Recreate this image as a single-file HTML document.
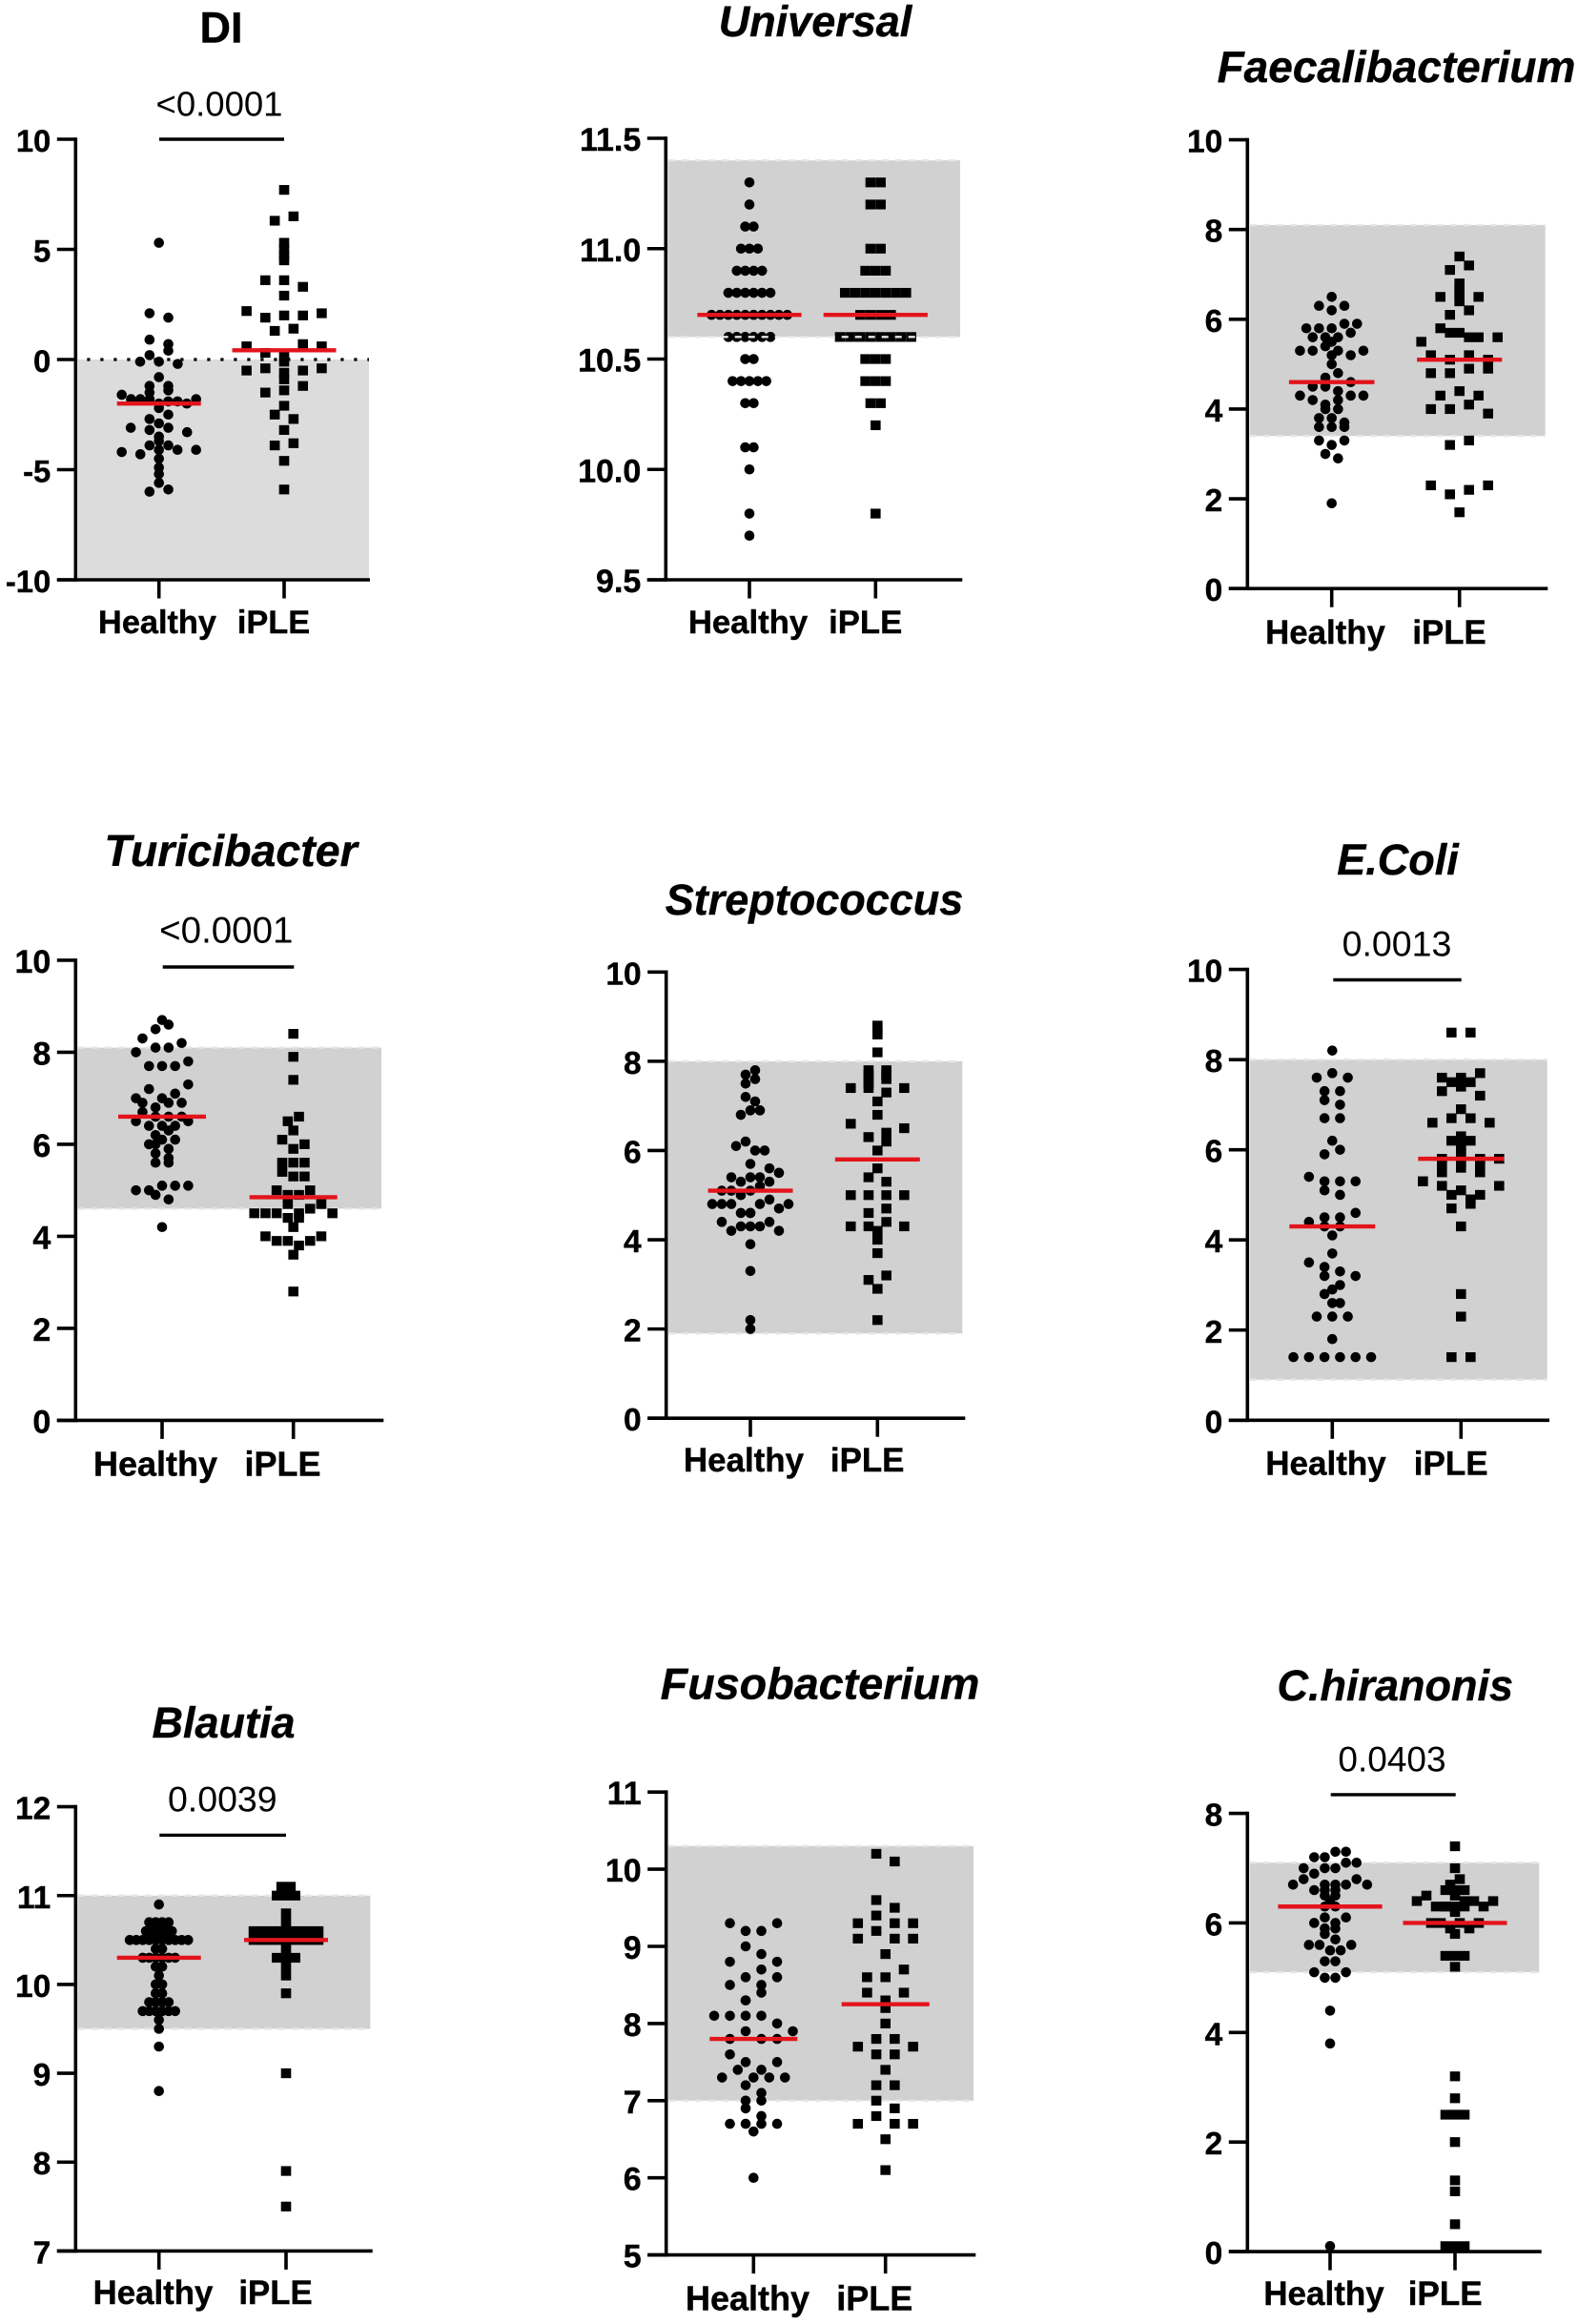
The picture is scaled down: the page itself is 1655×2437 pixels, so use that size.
<!DOCTYPE html>
<html lang="en">
<head>
<meta charset="utf-8">
<title>Microbiome dysbiosis index and qPCR panels: Healthy vs iPLE</title>
<style>
html,body{margin:0;padding:0;background:#fff}
svg{display:block}
text{font-family:"Liberation Sans",sans-serif;fill:#000}
.title{font-size:45px;font-weight:700;font-style:italic;stroke:#000;stroke-width:.4}
.title-plain{font-size:45px;font-weight:700;stroke:#000;stroke-width:.4}
.cat{font-size:34.3px;font-weight:700;stroke:#000;stroke-width:.4}
.tick{font-size:32.8px;font-weight:700;stroke:#000;stroke-width:.4}
.pval{font-size:36.5px}
#universal .tick{font-size:34px}
#universal .cat{font-size:34.7px}
#faecali .title{font-size:46px}
#faecali .cat{font-size:34.8px}
#faecali .tick{font-size:33.5px}
#turici .title{font-size:46.5px}
#turici .cat{font-size:36px}
#turici .tick{font-size:34px}
#turici .pval{font-size:38.5px}
#strep .cat{font-size:34.9px}
#strep .tick{font-size:33.5px}
#ecoli .cat{font-size:35px}
#ecoli .tick{font-size:33.5px}
#ecoli .pval{font-size:37.5px}
#blautia .cat{font-size:34.8px}
#blautia .tick{font-size:33.5px}
#blautia .pval{font-size:37.5px}
#fuso .title{font-size:46.7px}
#fuso .cat{font-size:36px}
#fuso .tick{font-size:34px}
#chir .cat{font-size:35px}
#chir .tick{font-size:33.5px}
#chir .pval{font-size:37px}
</style>
</head>
<body>
<svg xmlns="http://www.w3.org/2000/svg" width="1655" height="2437" viewBox="0 0 1655 2437">
<rect width="1655" height="2437" fill="#fff"/>

<g id="di">
<text class="title-plain" x="232" y="44.6" text-anchor="middle">DI</text>
<text class="pval" x="230" y="121.4" text-anchor="middle">&lt;0.0001</text>
<line x1="167" x2="298" y1="146" y2="146" stroke="#000" stroke-width="3.4"/>
<text class="cat" x="165" y="664" text-anchor="middle">Healthy</text>
<text class="cat" x="287" y="664" text-anchor="middle">iPLE</text>
</g>

<g id="universal">
<text class="title" x="855" y="38" text-anchor="middle">Universal</text>
<text class="cat" x="784.5" y="664" text-anchor="middle">Healthy</text>
<text class="cat" x="907.7" y="664" text-anchor="middle">iPLE</text>
</g>

<g id="faecali">
<text class="title" x="1464.5" y="85.9" text-anchor="middle">Faecalibacterium</text>
<text class="cat" x="1390" y="674.9" text-anchor="middle">Healthy</text>
<text class="cat" x="1520" y="674.9" text-anchor="middle">iPLE</text>
</g>

<g id="turici">
<text class="title" x="242" y="908.2" text-anchor="middle">Turicibacter</text>
<text class="pval" x="237.3" y="988.6" text-anchor="middle">&lt;0.0001</text>
<line x1="170.7" x2="308.3" y1="1014" y2="1014" stroke="#000" stroke-width="3.4"/>
<text class="cat" x="163" y="1547.5" text-anchor="middle">Healthy</text>
<text class="cat" x="296.5" y="1547.5" text-anchor="middle">iPLE</text>
</g>

<g id="strep">
<text class="title" x="854" y="959" text-anchor="middle">Streptococcus</text>
<text class="cat" x="780" y="1543.2" text-anchor="middle">Healthy</text>
<text class="cat" x="909.7" y="1543.2" text-anchor="middle">iPLE</text>
</g>

<g id="ecoli">
<text class="title" x="1466" y="916.9" text-anchor="middle">E.Coli</text>
<text class="pval" x="1465" y="1002.3" text-anchor="middle">0.0013</text>
<line x1="1398.3" x2="1532.7" y1="1027.5" y2="1027.5" stroke="#000" stroke-width="3.4"/>
<text class="cat" x="1390.5" y="1546.6" text-anchor="middle">Healthy</text>
<text class="cat" x="1521.7" y="1546.6" text-anchor="middle">iPLE</text>
</g>

<g id="blautia">
<text class="title" x="234.5" y="1821.9" text-anchor="middle">Blautia</text>
<text class="pval" x="233.3" y="1899.7" text-anchor="middle">0.0039</text>
<line x1="167.3" x2="300" y1="1924.4" y2="1924.4" stroke="#000" stroke-width="3.4"/>
<text class="cat" x="160.5" y="2415.8" text-anchor="middle">Healthy</text>
<text class="cat" x="289" y="2415.8" text-anchor="middle">iPLE</text>
</g>

<g id="fuso">
<text class="title" x="860" y="1781.5" text-anchor="middle">Fusobacterium</text>
<text class="cat" x="784" y="2422.5" text-anchor="middle">Healthy</text>
<text class="cat" x="917.2" y="2422.5" text-anchor="middle">iPLE</text>
</g>

<g id="chir">
<text class="title" x="1463.3" y="1782.9" text-anchor="middle">C.hiranonis</text>
<text class="pval" x="1460" y="1857.3" text-anchor="middle">0.0403</text>
<line x1="1395.7" x2="1526.7" y1="1881.9" y2="1881.9" stroke="#000" stroke-width="3.4"/>
<text class="cat" x="1388.5" y="2416.8" text-anchor="middle">Healthy</text>
<text class="cat" x="1515.7" y="2416.8" text-anchor="middle">iPLE</text>
</g>
</svg>

<script>
/* Values. Each *Bins array says how many consecutive values share one swarm row. */
const diTicks = ["10","5","0","-5","-10"];
const diMeans = [-2, 0.42];
const diRange = [-10, 0];
const diHealthy = [5.3, 2.1,1.9, 0.9,0.7, 0.2,0.4, -0.1,-0.1,-0.2, -0.8, -1.2,-1.2, -1.5,-1.4, -1.6,-1.8,-1.8,-1.8,-2.0,-1.9,-1.9,-2.0,-1.8, -2.2, -2.7,-2.5, -2.9, -3.1,-3.2,-3.1,-3.3, -3.5, -3.7, -3.9,-3.9, -4.2,-4.3,-4.1,-4.1,-4.1, -4.5, -4.9, -5.2, -5.6, -6.0,-5.9];
const diHealthyBins = [1,2,2,2,3,1,2,2,9,1,2,1,4,1,1,2,5,1,1,1,1,2];
const diIple = [7.7, 6.3,6.5, 5.3, 5.0, 4.7, 4.5, 3.6,3.6,3.3, 2.9, 2.2,1.9,2.0,2.0,2.1, 1.3,1.4, 0.6,0.3,0.2,0.7,0.6, -0.1, -0.5,-0.4,-0.6,-0.5,-0.4, -0.9, -1.5,-1.4,-1.2, -2.1, -2.5,-2.7, -3.2, -3.9,-3.8, -4.6, -5.9];
const diIpleBins = [1,2,1,1,1,1,3,1,5,2,5,1,5,1,3,1,2,1,2,1,1];

const universalTicks = ["11.5","11.0","10.5","10.0","9.5"];
const universalMeans = [10.7, 10.7];
const universalRange = [10.6, 11.4];
const universalHealthy = [11.3, 11.2, 11.1,11.1, 11,11,11, 10.9,10.9,10.9,10.9, 10.8,10.8,10.8,10.8,10.8,10.8, 10.7,10.7,10.7,10.7,10.7,10.7,10.7,10.7,10.7,10.7, 10.6,10.6,10.6,10.6,10.6,10.6, 10.5,10.5, 10.4,10.4,10.4,10.4,10.4, 10.3,10.3, 10.1,10.1, 10.0, 9.8, 9.7];
const universalHealthyBins = [1,1,2,3,4,6,10,6,2,5,2,2,1,1,1];
const universalIple = [11.3,11.3, 11.2,11.2, 11,11, 10.9,10.9,10.9, 10.8,10.8,10.8,10.8,10.8,10.8,10.8, 10.7,10.7,10.7,10.7, 10.6,10.6,10.6,10.6,10.6,10.6,10.6,10.6, 10.5,10.5,10.5, 10.4,10.4,10.4, 10.3,10.3, 10.2, 9.8];
const universalIpleBins = [2,2,2,3,7,4,8,3,3,2,1,1];

const faecaliTicks = ["10","8","6","4","2","0"];
const faecaliMeans = [4.6, 5.1];
const faecaliRange = [3.4, 8.1];
const faecaliHealthy = [6.5, 6.3,6.2,6.3, 5.8,5.8,5.8,5.9,5.9, 5.6,5.6,5.6,5.7, 5.5, 5.3,5.3,5.4,5.3,5.2,5.3, 5.2, 5.0, 4.7,4.8, 4.5,4.5,4.4,4.6, 4.3,4.2,4.1,4.2,4.3,4.3, 4.0,4.0, 3.8,3.8,3.7, 3.6,3.6,3.6, 3.3,3.2,3.3, 3.0,2.9, 1.9];
const faecaliHealthyBins = [1,3,5,4,1,6,1,1,2,4,6,2,3,3,3,2,1];
const faecaliIple = [7.4, 7.1,7.2, 6.8, 6.7, 6.6, 6.4, 6.5,6.5,6.5, 6.1,6.2, 5.5,5.8,5.7,5.6,5.6, 5.7,5.6, 5.2,5.1,5.2,5.1, 4.8,4.8,4.9,4.9, 4.3,4.4,4.3, 4.0,4.0,4.1,3.9, 3.2,3.3, 2.3,2.1,2.2,2.3, 1.7];
const faecaliIpleBins = [1,2,1,1,1,1,3,2,5,2,4,4,3,4,2,4,1];

const turiciTicks = ["10","8","6","4","2","0"];
const turiciMeans = [6.6, 4.85];
const turiciRange = [4.6, 8.1];
const turiciHealthy = [8.7, 8.5,8.6, 8.3,8.1,8.1,8.2, 8.0,7.7,7.7,7.7,7.8, 7.0,7.2,7.0,7.1,7.3, 6.9,6.8,6.9,6.9, 6.7,6.6,6.6,6.6, 6.5,6.4,6.4,6.4,6.5, 6.2,6.3, 6.0,6.1,6.1, 6.0,5.9, 5.8,5.7, 5.6,5.6, 5.0,5.0,5.1,5.1,5.1, 4.9,4.8, 4.2];
const turiciHealthyBins = [1,2,4,5,5,4,4,5,2,3,2,2,2,5,2,1];
const turiciIple = [8.4, 7.9, 7.4, 6.5,6.6, 6.3, 6.1,5.9,6.0, 5.6,5.6,5.6, 5.4,5.3,5.3, 5.0,4.9,4.9,5.0, 4.5,4.5,4.5,4.4,4.5,4.6,4.7,4.5, 4.7,4.4, 4.2, 4.0,3.9,3.9,3.8,3.9,4.0, 3.6, 2.8];
const turiciIpleBins = [1,1,1,2,1,3,3,3,4,8,2,1,6,1,1];

const strepTicks = ["10","8","6","4","2","0"];
const strepMeans = [5.1, 5.8];
const strepRange = [1.9, 8.0];
const strepHealthy = [7.7,7.8, 7.5,7.6, 7.2,7.1, 6.8,6.9,6.9, 6.1,6.2,6.0,6.0, 5.7, 5.1,5.4,5.3,5.4,5.4,5.6,5.5, 5.1,5.0,5.1,5.2,5.3, 4.8,4.8,4.8,4.6,4.6,4.8,4.9,4.7,4.8, 4.6, 4.4,4.2,4.3,4.3,4.3,4.4,4.2, 3.9, 3.3, 2.2, 2.0];
const strepHealthyBins = [2,2,2,3,4,1,7,5,9,1,7,1,1,1,1];
const strepIple = [8.8, 8.7, 8.6, 8.2, 7.4,7.5,7.6,7.4, 7.8,7.8, 7.7,7.7, 7.6,7.7, 7.4,7.3, 7.1, 6.8, 6.6,6.3,6.4,6.5, 6.3,6.2, 6.0, 5.6, 5.4,5.3, 5.0,5.0,5.0,5.0, 4.6,4.7, 4.3,4.3,4.4,4.3, 4.2, 4.0, 3.7, 3.1,3.2, 2.9, 2.2];
const strepIpleBins = [1,1,1,1,4,2,2,2,2,1,1,4,2,1,1,2,4,2,4,1,1,1,2,1,1];

const ecoliTicks = ["10","8","6","4","2","0"];
const ecoliMeans = [4.3, 5.8];
const ecoliRange = [0.9, 8.0];
const ecoliHealthy = [8.2, 7.6,7.7,7.6, 7.3,7.3, 7.1,7.0, 6.7,6.7, 6.2, 5.9,6.0, 5.4,5.3,5.3,5.3, 5.1,5.0, 4.4,4.5,4.5,4.6, 4.3,4.3, 4.1, 3.7, 3.5,3.4,3.3,3.2, 3.2,3.0, 2.9, 2.8,2.6, 2.6, 2.3,2.3,2.3, 1.8, 1.4,1.4,1.4,1.4,1.4,1.4];
const ecoliHealthyBins = [1,3,2,2,2,1,2,4,2,4,2,1,1,4,2,1,2,1,3,1,6];
const ecoliIple = [8.6,8.6, 7.6,7.6,7.7, 7.5,7.5, 7.3,7.4,7.2, 6.9, 6.6,6.7,6.7,6.6, 6.3, 6.2,6.2, 6.1, 6.0, 5.9, 5.3,5.8,5.8,5.8,5.8, 5.7,5.7,5.7, 5.5,5.6,5.5, 5.3,5.2,5.1,5.0,5.2, 5.0,4.9, 4.7,4.8, 4.3, 2.8, 2.3, 1.4,1.4];
const ecoliIpleBins = [2,3,2,3,1,4,1,2,1,1,1,5,3,3,5,2,2,1,1,1,2];

const blautiaTicks = ["12","11","10","9","8","7"];
const blautiaMeans = [10.3, 10.5];
const blautiaRange = [9.5, 11.0];
const blautiaHealthy = [10.9, 10.7,10.7,10.7,10.7, 10.6,10.6,10.6,10.6,10.6, 10.5,10.5,10.5,10.5,10.5,10.5,10.5,10.5,10.5,10.5, 10.4,10.4, 10.3,10.3,10.3,10.3,10.3,10.3, 10.2,10.2, 10.1, 10.0,10.0, 9.9,9.9, 9.8,9.8,9.8,9.8, 9.7,9.7,9.7,9.7,9.7,9.7, 9.6, 9.5, 9.3, 8.8];
const blautiaHealthyBins = [1,4,5,10,2,6,2,1,2,2,4,6,1,1,1,1];
const blautiaIple = [11.1,11.1, 11,11,11, 10.8, 10.7, 10.6,10.6,10.6,10.6,10.6,10.6,10.6,10.6, 10.5,10.5,10.5,10.5,10.5,10.5,10.5,10.5, 10.4, 10.3,10.3,10.3, 10.2, 10.1, 9.9, 9.0, 7.9, 7.5];
const blautiaIpleBins = [2,3,1,1,8,8,1,3,1,1,1,1,1,1];

const fusoTicks = ["11","10","9","8","7","6","5"];
const fusoMeans = [7.8, 8.25];
const fusoRange = [7.0, 10.3];
const fusoHealthy = [9.3,9.2,9.2,9.3, 9.0,8.9, 8.8,8.6,8.7,8.8, 8.5,8.3,8.5,8.6, 8.3,8.4, 8.1,8.1,8.1,8.1,8.0,7.9, 7.8,7.9,7.8,7.8, 7.6,7.5,7.4,7.5, 7.3,7.4,7.3,7.3,7.3, 7.2,7.1, 7.0,7.0, 6.9,6.8, 6.7,6.7,6.7,6.7, 6.6, 6.0];
const fusoHealthyBins = [4,2,4,4,2,6,4,4,5,2,2,2,4,1,1];
const fusoIple = [10.2,10.1, 9.6,9.5, 9.3,9.4,9.3,9.3, 9.1,9.2,9.1,9.1, 8.9, 8.6,8.6,8.7, 8.4,8.3,8.4, 8.2, 8.0, 7.7,7.8,7.8,7.7, 7.6,7.6, 7.4, 7.2,7.2, 7.0,6.9, 6.7,6.8,6.7,6.7, 6.5, 6.1];
const fusoIpleBins = [2,2,4,4,1,3,3,1,1,4,2,1,2,2,4,1,1];

const chirTicks = ["8","6","4","2","0"];
const chirMeans = [6.3, 6.0];
const chirRange = [5.1, 7.1];
const chirHealthy = [7.2,7.2,7.3,7.3, 7.0,6.9,7.0,7.0,7.1,7.1, 6.7,6.8,6.6,6.7,6.7,6.7,6.8,6.7, 6.6,6.6, 6.5,6.5, 6.4, 6.3,6.3, 6.0,6.1,6.0,6.1, 5.9,5.9, 5.8,5.7, 5.6,5.6,5.5,5.5,5.6, 5.3,5.3, 5.1,5.0,5.0,5.1, 4.4, 3.8, 0.1];
const chirHealthyBins = [4,6,8,2,2,1,2,4,2,2,5,2,4,1,1,1];
const chirIple = [7.4, 7.0, 6.7,6.8, 6.6,6.6,6.6, 6.4,6.5,6.3,6.3,6.5,6.4,6.4,6.3,6.4, 6.3,6.3,6.3, 6.2, 6.0,6.0,5.9,6.0,5.9,6.0, 5.8, 5.4,5.4,5.4, 5.2, 3.2, 2.8, 2.5,2.5,2.5, 2.0, 1.3, 1.1, 0.5, 0.1,0.1,0.1];
const chirIpleBins = [1,1,2,3,9,3,1,6,1,3,1,1,1,3,1,1,1,1,3];

const panels = [
  {id:'di', ticks:diTicks, means:diMeans, range:diRange, healthy:diHealthy, healthyBins:diHealthyBins, iple:diIple, ipleBins:diIpleBins,
   ax:79.3, top:146, bot:608, xEnd:388, cats:[166.7,298], bandX:[81.7,387], bandFill:'#dcdcdc', edges:false, refLine:true, meanHalf:[44,54.5], stepH:19.7, widthH:78, stepI:19.7},
  {id:'universal', ticks:universalTicks, means:universalMeans, range:universalRange, healthy:universalHealthy, healthyBins:universalHealthyBins, iple:universalIple, ipleBins:universalIpleBins,
   ax:698.3, top:145, bot:608, xEnd:1009.3, cats:[786,918.3], bandX:[700.7,1007], bandFill:'#d1d1d1', edges:true, edgesOnTop:true, meanHalf:[54.6,54.6], stepH:8.83, stepI:10.67},
  {id:'faecali', ticks:faecaliTicks, means:faecaliMeans, range:faecaliRange, healthy:faecaliHealthy, healthyBins:faecaliHealthyBins, iple:faecaliIple, ipleBins:faecaliIpleBins,
   ax:1308.3, top:146.6, bot:617.2, xEnd:1623.3, cats:[1396.7,1530.7], bandX:[1311,1620.7], bandFill:'#d1d1d1', edges:true, meanHalf:[44.8,44.6], stepH:13.3, stepI:20},
  {id:'turici', ticks:turiciTicks, means:turiciMeans, range:turiciRange, healthy:turiciHealthy, healthyBins:turiciHealthyBins, iple:turiciIple, ipleBins:turiciIpleBins,
   ax:79.3, top:1006.9, bot:1489.4, xEnd:402.3, cats:[170,307.7], bandX:[81.7,400], bandFill:'#d1d1d1', edges:true, meanHalf:[46,46], stepH:13.7, stepI:11.7},
  {id:'strep', ticks:strepTicks, means:strepMeans, range:strepRange, healthy:strepHealthy, healthyBins:strepHealthyBins, iple:strepIple, ipleBins:strepIpleBins,
   ax:698.7, top:1019.3, bot:1487.2, xEnd:1012.3, cats:[787,920.3], bandX:[701,1009.3], bandFill:'#d1d1d1', edges:true, meanHalf:[44.5,44.5], stepH:10, stepI:18.7},
  {id:'ecoli', ticks:ecoliTicks, means:ecoliMeans, range:ecoliRange, healthy:ecoliHealthy, healthyBins:ecoliHealthyBins, iple:ecoliIple, ipleBins:ecoliIpleBins,
   ax:1308.3, top:1016.6, bot:1489.3, xEnd:1625, cats:[1397.3,1532.3], bandX:[1311,1622.7], bandFill:'#d1d1d1', edges:true, meanHalf:[45,45], stepH:16.3, stepI:20},
  {id:'blautia', ticks:blautiaTicks, means:blautiaMeans, range:blautiaRange, healthy:blautiaHealthy, healthyBins:blautiaHealthyBins, iple:blautiaIple, ipleBins:blautiaIpleBins,
   ax:79.3, top:1894.6, bot:2360.4, xEnd:390.7, cats:[166.7,300], bandX:[81.7,388.3], bandFill:'#d1d1d1', edges:true, meanHalf:[44,44], stepH:6.8, stepI:9.7},
  {id:'fuso', ticks:fusoTicks, means:fusoMeans, range:fusoRange, healthy:fusoHealthy, healthyBins:fusoHealthyBins, iple:fusoIple, ipleBins:fusoIpleBins,
   ax:698.7, top:1879.2, bot:2364.6, xEnd:1023.3, cats:[790.3,928.7], bandX:[701,1021], bandFill:'#d1d1d1', edges:true, meanHalf:[46,46], stepH:16.5, stepI:19.3},
  {id:'chir', ticks:chirTicks, means:chirMeans, range:chirRange, healthy:chirHealthy, healthyBins:chirHealthyBins, iple:chirIple, ipleBins:chirIpleBins,
   ax:1308.3, top:1901.6, bot:2361.1, xEnd:1616.7, cats:[1395,1526], bandX:[1311,1614.3], bandFill:'#d1d1d1', edges:true, meanHalf:[54.6,54.5], stepH:11.1, stepI:10}
];

const SVG_NS = 'http://www.w3.org/2000/svg';

function make(tag, attrs) {
  const node = document.createElementNS(SVG_NS, tag);
  for (const key in attrs) node.setAttribute(key, attrs[key]);
  return node;
}

/* Splits a flat value list into swarm rows using the row sizes. */
function toRows(values, sizes) {
  const rows = [];
  let start = 0;
  sizes.forEach(function (size) {
    if (start < values.length) rows.push(values.slice(start, start + size));
    start += size;
  });
  while (start < values.length) {
    rows.push([values[start]]);
    start += 1;
  }
  return rows;
}

/* Symmetric swarm: points in a row spread around the category centre, compressed to the max width. */
function swarmX(centre, index, count, step, maxWidth) {
  const gap = maxWidth && count > 1 ? Math.min(step, maxWidth / (count - 1)) : step;
  return centre + (index - (count - 1) / 2) * gap;
}

function drawPanel(p) {
  const g = document.getElementById(p.id);
  const tickValues = p.ticks.map(parseFloat);
  const yMax = Math.max.apply(null, tickValues);
  const yMin = Math.min.apply(null, tickValues);
  const y = function (v) { return p.top + (yMax - v) / (yMax - yMin) * (p.bot - p.top); };

  function drawEdges() {
    p.range.forEach(function (edge) {
      const line = make('line', {x1:p.bandX[0], x2:p.bandX[1], y1:y(edge), y2:y(edge), stroke:'#e6e6e6', 'stroke-width':2.4, 'stroke-dasharray':'7 7'});
      
      
      g.appendChild(line);
    });
  }

  const band = make('rect', {x:p.bandX[0], width:p.bandX[1]-p.bandX[0], y:y(p.range[1]), height:y(p.range[0])-y(p.range[1]), fill:p.bandFill});
  
  
  g.appendChild(band);

  if (p.edges && !p.edgesOnTop) drawEdges();

  if (p.refLine) {
    const ref = make('line', {x1:p.ax+12, x2:p.bandX[1], y1:y(0), y2:y(0), stroke:'#000', 'stroke-width':3.2, 'stroke-dasharray':'3.2 10.8'});
    
    
    g.appendChild(ref);
  }

  const yAxis = make('line', {x1:p.ax, x2:p.ax, y1:p.top-1.8, y2:p.bot+1.8, stroke:'#000', 'stroke-width':3.6});
  
  
  g.appendChild(yAxis);

  const xAxis = make('line', {x1:p.ax-19.5, x2:p.xEnd, y1:p.bot, y2:p.bot, stroke:'#000', 'stroke-width':3.6});
  
  
  g.appendChild(xAxis);

  p.ticks.forEach(function (label, i) {
    const ty = y(tickValues[i]);
    const mark = make('line', {x1:p.ax-19.5, x2:p.ax, y1:ty, y2:ty, stroke:'#000', 'stroke-width':3.6});
    
    
    g.appendChild(mark);
    const text = make('text', {'class':'tick', 'text-anchor':'end', x:p.ax-26, y:ty+13});
    text.textContent = label;
    
    
    g.appendChild(text);
  });

  p.cats.forEach(function (cx) {
    const mark = make('line', {x1:cx, x2:cx, y1:p.bot, y2:p.bot+19.5, stroke:'#000', 'stroke-width':3.6});
    
    
    g.appendChild(mark);
  });

  toRows(p.healthy, p.healthyBins).forEach(function (row) {
    row.forEach(function (v, i) {
      const dot = make('circle', {cx:swarmX(p.cats[0], i, row.length, p.stepH, p.widthH), cy:y(v), r:5.3, fill:'#000'});
      
      
      g.appendChild(dot);
    });
  });

  toRows(p.iple, p.ipleBins).forEach(function (row) {
    row.forEach(function (v, i) {
      const cx = swarmX(p.cats[1], i, row.length, p.stepI, p.widthI);
      const square = make('rect', {x:cx-5.3, y:y(v)-5.1, width:10.6, height:10.2, fill:'#000'});
      
      
      g.appendChild(square);
    });
  });

  if (p.edges && p.edgesOnTop) drawEdges();

  p.means.forEach(function (m, i) {
    const line = make('line', {x1:p.cats[i]-p.meanHalf[i], x2:p.cats[i]+p.meanHalf[i], y1:y(m), y2:y(m), stroke:'#e3141c', 'stroke-width':4.4});
    
    
    g.appendChild(line);
  });
}

panels.forEach(drawPanel);
</script>
</body>
</html>
